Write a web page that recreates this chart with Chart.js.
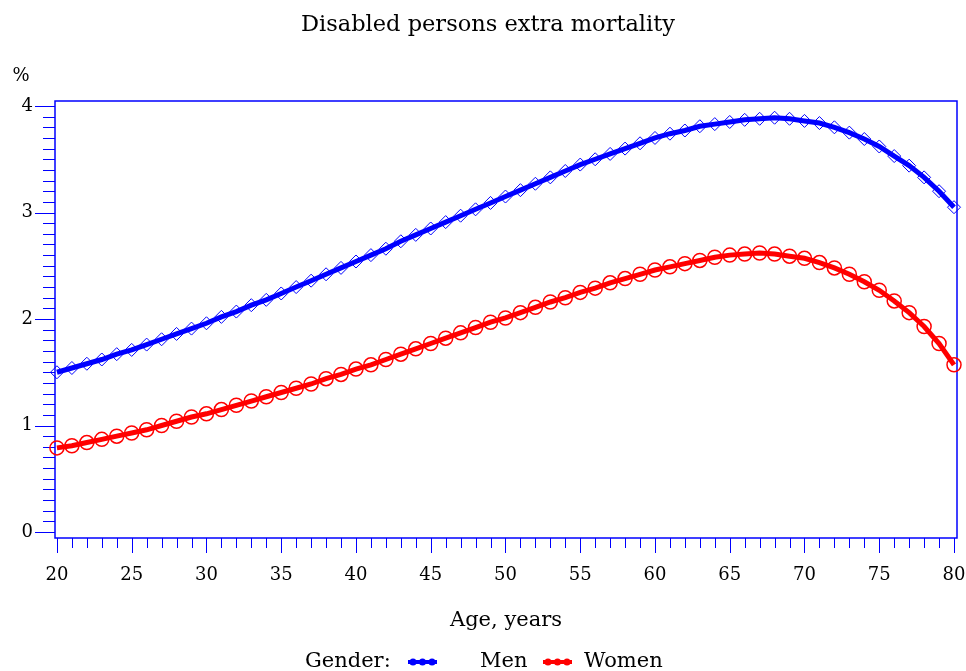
<!DOCTYPE html>
<html>
<head>
<meta charset="utf-8">
<script src="https://cdn.jsdelivr.net/npm/chart.js@4/dist/chart.umd.min.js"></script>
<style>
  html, body { margin: 0; padding: 0; background: #fff; }
  #wrap { width: 966px; height: 671px; position: relative; }
</style>
</head>
<body>
<div id="wrap"><canvas id="chart"></canvas></div>
<script>
// chart data
const ages = [20, 21, 22, 23, 24, 25, 26, 27, 28, 29, 30, 31, 32, 33, 34, 35, 36, 37, 38, 39,
              40, 41, 42, 43, 44, 45, 46, 47, 48, 49, 50, 51, 52, 53, 54, 55, 56, 57, 58, 59,
              60, 61, 62, 63, 64, 65, 66, 67, 68, 69, 70, 71, 72, 73, 74, 75, 76, 77, 78, 79, 80];
const menValues = [1.50, 1.54, 1.58, 1.62, 1.67, 1.71, 1.76, 1.81, 1.86, 1.91,
                   1.96, 2.02, 2.07, 2.13, 2.18, 2.24, 2.30, 2.36, 2.42, 2.48,
                   2.54, 2.60, 2.66, 2.73, 2.79, 2.85, 2.91, 2.97, 3.03, 3.09,
                   3.15, 3.21, 3.27, 3.33, 3.39, 3.45, 3.50, 3.55, 3.60, 3.65,
                   3.70, 3.74, 3.77, 3.81, 3.83, 3.85, 3.87, 3.88, 3.89, 3.88,
                   3.86, 3.84, 3.80, 3.75, 3.69, 3.62, 3.53, 3.44, 3.33, 3.20, 3.05];
const womenValues = [0.79, 0.81, 0.84, 0.87, 0.90, 0.93, 0.96, 1.00, 1.04, 1.08,
                     1.11, 1.15, 1.19, 1.23, 1.27, 1.31, 1.35, 1.39, 1.44, 1.48,
                     1.53, 1.57, 1.62, 1.67, 1.72, 1.77, 1.82, 1.87, 1.92, 1.97,
                     2.01, 2.06, 2.11, 2.16, 2.20, 2.25, 2.29, 2.34, 2.38, 2.42,
                     2.46, 2.49, 2.52, 2.55, 2.58, 2.60, 2.61, 2.62, 2.61, 2.59,
                     2.57, 2.53, 2.48, 2.42, 2.35, 2.27, 2.17, 2.06, 1.93, 1.77, 1.57];
const xTickLabels = [20, 25, 30, 35, 40, 45, 50, 55, 60, 65, 70, 75, 80];
const yTickLabels = [0, 1, 2, 3, 4];
const seriesNames = ['Men', 'Women'];

const chartTitle = 'Disabled persons extra mortality';
const xTitle = 'Age, years';
const yTitle = '%';
const legendTitle = 'Gender:';

const BLUE = '#0000ff';
const RED = '#ff0000';
const FONT = '"DejaVu Serif", "Liberation Serif", serif';

// axes, ticks, titles and legend drawn by hand around the plot
const decorations = {
    id: 'decorations',
    beforeDatasetsDraw(chart) {
        const { ctx, chartArea: a, scales: { x, y } } = chart;
        ctx.save();

        // frame
        ctx.strokeStyle = BLUE;
        ctx.lineWidth = 1.5;
        ctx.strokeRect(a.left, a.top, a.right - a.left, a.bottom - a.top);

        // y ticks, minor every 0.1
        ctx.lineWidth = 1;
        ctx.beginPath();
        for (let i = 0; i <= 40; i++) {
            const py = Math.round(y.getPixelForValue(i / 10)) + 0.5;
            const len = i % 10 === 0 ? 20 : 12;
            ctx.moveTo(a.left - len, py);
            ctx.lineTo(a.left, py);
        }
        // x ticks, minor every year
        for (let v = 20; v <= 80; v++) {
            const px = Math.round(x.getPixelForValue(v)) + 0.5;
            const len = v % 5 === 0 ? 15 : 10;
            ctx.moveTo(px, a.bottom);
            ctx.lineTo(px, a.bottom + len);
        }
        ctx.stroke();

        // tick labels
        ctx.fillStyle = '#000';
        ctx.font = '18px ' + FONT;
        ctx.textAlign = 'right';
        ctx.textBaseline = 'middle';
        yTickLabels.forEach(v => ctx.fillText(String(v), a.left - 22, y.getPixelForValue(v)));
        ctx.textAlign = 'center';
        xTickLabels.forEach(v => ctx.fillText(String(v), x.getPixelForValue(v), 575));

        // titles
        ctx.fillText(yTitle, 21, 76);
        ctx.font = '21px ' + FONT;
        ctx.fillText(xTitle, (a.left + a.right) / 2, 621);
        ctx.font = '22.5px ' + FONT;
        ctx.fillText(chartTitle, chart.width / 2 + 5, 25);

        // legend
        ctx.font = '21px ' + FONT;
        ctx.textAlign = 'left';
        const ly = 662;
        ctx.fillText(legendTitle, 305, ly);
        const sym = [{ x0: 408, ds: chart.data.datasets[0], label: seriesNames[0], lx: 480 },
                     { x0: 543, ds: chart.data.datasets[1], label: seriesNames[1], lx: 584 }];
        sym.forEach(s => {
            ctx.strokeStyle = s.ds.borderColor;
            ctx.lineWidth = 4;
            ctx.beginPath();
            ctx.moveTo(s.x0, ly);
            ctx.lineTo(s.x0 + 29, ly);
            ctx.stroke();
            ctx.fillStyle = s.ds.borderColor;
            for (let k = 0; k < 3; k++) {
                ctx.beginPath();
                ctx.arc(s.x0 + 5 + k * 9.5, ly, 3.5, 0, Math.PI * 2);
                ctx.fill();
            }
            ctx.fillStyle = '#000';
            ctx.fillText(s.label, s.lx, ly);
        });

        ctx.restore();
    }
};

const ctx = document.getElementById('chart').getContext('2d');
new Chart(ctx, {
    type: 'line',
    data: {
        datasets: [{
            label: seriesNames[0],
            data: ages.map((a, i) => ({ x: a, y: menValues[i] })),
            borderColor: BLUE,
            borderWidth: 5,
            pointStyle: 'rectRot',
            pointRadius: 6.5,
            pointBorderWidth: 1,
            pointBorderColor: BLUE,
            pointBackgroundColor: 'rgba(0,0,0,0)',
            tension: 0
        }, {
            label: seriesNames[1],
            data: ages.map((a, i) => ({ x: a, y: womenValues[i] })),
            borderColor: RED,
            borderWidth: 5,
            pointStyle: 'circle',
            pointRadius: 7,
            pointBorderWidth: 1.5,
            pointBorderColor: RED,
            pointBackgroundColor: 'rgba(0,0,0,0)',
            tension: 0
        }]
    },
    options: {
        responsive: true,
        maintainAspectRatio: false,
        animation: false,
        clip: false,
        layout: {
            padding: { left: 55, right: 9, top: 101, bottom: 133 }
        },
        plugins: {
            legend: { display: false },
            title: { display: false },
            tooltip: { enabled: false }
        },
        scales: {
            x: {
                type: 'linear',
                min: 19.87,
                max: 80.2,
                display: false
            },
            y: {
                min: -0.056,
                max: 4.047,
                display: false
            }
        }
    },
    plugins: [decorations]
});
</script>
</body>
</html>
